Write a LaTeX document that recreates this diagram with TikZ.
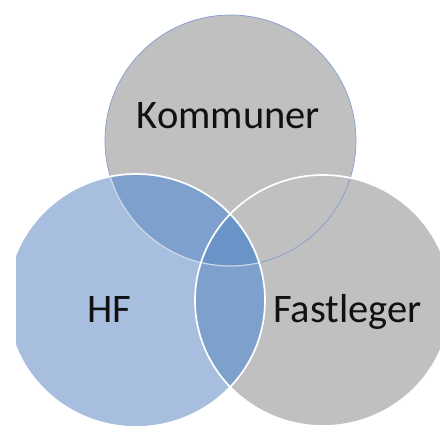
\documentclass[tikz,border=0pt]{standalone}
\usepackage{fontspec}
\setmainfont{Carlito}
\definecolor{greyfill}{RGB}{192,192,192}
\definecolor{hfblue}{RGB}{167,190,222}
\definecolor{midblue}{RGB}{125,160,205}
\definecolor{darkblue}{RGB}{106,147,200}
\definecolor{edgeblue}{RGB}{130,158,205}
\definecolor{txt}{RGB}{17,17,17}
\tikzset{
  lbl/.style={anchor=base, text=txt, font=\fontsize{40.5}{48}\selectfont, inner sep=0pt},
  whiteedge/.style={draw=white, line width=1.7pt}
}
\begin{document}
\begin{tikzpicture}[x=1pt,y=-1pt]
\useasboundingbox (0,0) rectangle (440,429);
\def\topC{(230.5,140.5) circle (125.5)}
\def\leftC{(136,300.5) ellipse (129 and 126.5)}
\def\rightC{(323,300.5) ellipse (128 and 125.5)}
\begin{scope}
\clip (16,0) rectangle (440,429);
% base fills
\fill[greyfill] \topC;
\fill[greyfill] \rightC;
\fill[hfblue] \leftC;
% HF overlaps
\begin{scope}
  \clip \leftC;
  \fill[midblue] \topC;
  \fill[midblue] \rightC;
  \clip \topC;
  \fill[darkblue] \rightC;
\end{scope}
% edges
\draw[edgeblue, line width=0.7pt] \topC;
\begin{scope}
  \clip \leftC;
  \draw[white, opacity=0.6, line width=1.2pt] \topC;
\end{scope}
\draw[whiteedge] \rightC;
\draw[whiteedge] \leftC;
\end{scope}
% labels
\node[lbl] (kommuner) at (228.5,128) {Kommuner};
\node[lbl] (hf) at (109,322) {HF};
\node[lbl] (fastleger) at (347.5,322) {Fastleger};
\end{tikzpicture}
\end{document}
